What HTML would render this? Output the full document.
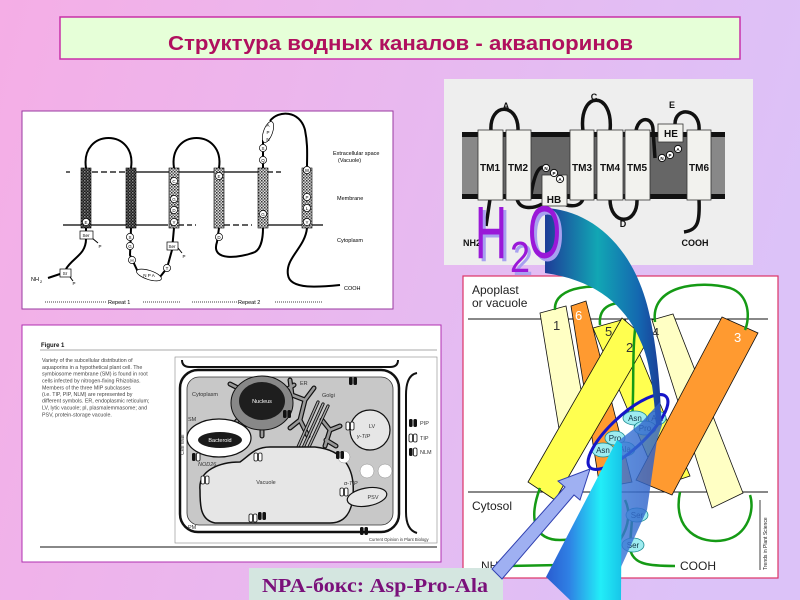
<!DOCTYPE html>
<html><head><meta charset="utf-8"><style>html,body{margin:0;padding:0;width:800px;height:600px;overflow:hidden}svg{display:block}</style></head>
<body>
<svg width="800" height="600" viewBox="0 0 800 600" xmlns="http://www.w3.org/2000/svg" xmlns:xlink="http://www.w3.org/1999/xlink" font-family="'Liberation Sans', 'DejaVu Sans', sans-serif">
<defs>
<linearGradient id="bg" x1="0" y1="0" x2="800" y2="220" gradientUnits="userSpaceOnUse">
<stop offset="0" stop-color="#f5aee6"/><stop offset="1" stop-color="#dcc2f8"/></linearGradient>
<pattern id="chkD" width="3" height="3" patternUnits="userSpaceOnUse"><rect width="3" height="3" fill="#1a1a1a"/><rect width="1.5" height="1.5" fill="#888"/><rect x="1.5" y="1.5" width="1.5" height="1.5" fill="#555"/></pattern>
<pattern id="chkL" width="3" height="3" patternUnits="userSpaceOnUse"><rect width="3" height="3" fill="#ddd"/><rect width="1.5" height="1.5" fill="#333"/><rect x="1.5" y="1.5" width="1.5" height="1.5" fill="#666"/></pattern>
<linearGradient id="arc" x1="545" y1="0" x2="662" y2="0" gradientUnits="userSpaceOnUse">
<stop offset="0" stop-color="#1d3c98"/><stop offset="0.45" stop-color="#12a6b4"/><stop offset="0.8" stop-color="#1468b0"/><stop offset="1" stop-color="#1c3a96"/></linearGradient>
<linearGradient id="cy" x1="546" y1="0" x2="622" y2="0" gradientUnits="userSpaceOnUse">
<stop offset="0" stop-color="#2a5cd0"/><stop offset="0.3" stop-color="#2f80e4"/><stop offset="0.72" stop-color="#22eef8"/><stop offset="1" stop-color="#18c4e8"/></linearGradient>
<linearGradient id="mb" x1="617" y1="0" x2="662" y2="0" gradientUnits="userSpaceOnUse">
<stop offset="0" stop-color="#3a78d8"/><stop offset="1" stop-color="#2c5cc4"/></linearGradient>
<g id="pip"><rect x="-4" y="-4" width="3.6" height="8" rx="1.5" fill="#111"/><rect x="0.4" y="-4" width="3.6" height="8" rx="1.5" fill="#111"/></g>
<g id="tip"><rect x="-4" y="-4" width="3.6" height="8" rx="1.5" fill="#fff" stroke="#111" stroke-width="0.8"/><rect x="0.4" y="-4" width="3.6" height="8" rx="1.5" fill="#fff" stroke="#111" stroke-width="0.8"/></g>
<g id="nlm"><rect x="-4" y="-4" width="3.6" height="8" rx="1.5" fill="#111"/><rect x="0.4" y="-4" width="3.6" height="8" rx="1.5" fill="#fff" stroke="#111" stroke-width="0.8"/></g>
</defs>

<rect width="800" height="600" fill="url(#bg)"/>

<!-- Title -->
<rect x="60" y="17" width="680" height="42" fill="#e6ffd8" stroke="#c830a8" stroke-width="1.5"/>
<text x="168" y="50" font-size="20" font-weight="bold" fill="#b0105e" textLength="465" lengthAdjust="spacingAndGlyphs">Структура водных каналов - аквапоринов</text>

<!-- ============ Top-left diagram ============ -->
<rect x="22" y="111" width="371" height="198" fill="#fff" stroke="#9a3aa0" stroke-width="1"/>
<g stroke="#000" stroke-width="1.2">
<line x1="66" y1="172" x2="70" y2="172"/>
<line x1="92" y1="172" x2="125" y2="172" stroke-dasharray="6 3"/>
<line x1="136" y1="172" x2="258" y2="172"/>
<line x1="268" y1="172" x2="284" y2="172" stroke-dasharray="5 3"/>
<line x1="63" y1="225" x2="168" y2="225"/>
<line x1="179" y1="225" x2="196" y2="225" stroke-dasharray="5 3"/>
<line x1="224" y1="225" x2="252" y2="225" stroke-dasharray="6 3"/>
<line x1="268" y1="225" x2="323" y2="225"/>
</g>
<g fill="none" stroke="#000" stroke-width="2">
<path d="M86,168 C80,128 137,128 131,168"/>
<path d="M174,168 C168,128 225,128 219,168"/>
<path d="M263,168 L263,140"/>
<path d="M270,121 C278,110 300,110 305,130 C308,145 307,155 307,168"/>
<path d="M86,228 L86,239 C86,255 72,258 66,269"/>
<path d="M48,278 L60,274"/>
<path d="M131,228 L130,255 L138,272 L160,277 L167,268 L172,250 L174,228"/>
<path d="M219,228 L217,242 C210,262 240,258 255,252 C262,248 263,235 263,228"/>
<path d="M307,228 C305,248 285,258 288,275 C290,290 320,287 340,285"/>
<path d="M92,238 L98,243" stroke-width="1"/>
<path d="M70,277 L73,281" stroke-width="1"/>
<path d="M178,248 L182,253" stroke-width="1"/>
</g>
<rect x="81" y="168" width="10" height="60" fill="url(#chkD)" stroke="#000" stroke-width="0.6"/>
<rect x="126" y="168" width="10" height="60" fill="url(#chkD)" stroke="#000" stroke-width="0.6"/>
<rect x="169" y="168" width="10" height="60" fill="url(#chkL)" stroke="#000" stroke-width="0.6"/>
<rect x="214" y="168" width="10" height="60" fill="url(#chkL)" stroke="#000" stroke-width="0.6"/>
<rect x="258" y="168" width="10" height="60" fill="url(#chkL)" stroke="#000" stroke-width="0.6"/>
<rect x="302" y="168" width="10" height="60" fill="url(#chkL)" stroke="#000" stroke-width="0.6"/>
<g fill="#fff" stroke="#000" stroke-width="0.7">
<circle cx="86" cy="222" r="3.6"/><circle cx="174" cy="181" r="3.6"/><circle cx="174" cy="199" r="3.6"/><circle cx="174" cy="210" r="3.6"/><circle cx="174" cy="222" r="3.6"/>
<circle cx="219" cy="176" r="3.6"/><circle cx="263" cy="214" r="3.6"/>
<circle cx="307" cy="170" r="3.6"/><circle cx="307" cy="197" r="3.6"/><circle cx="307" cy="208" r="3.6"/><circle cx="307" cy="222" r="3.6"/>
<circle cx="130" cy="237" r="3.6"/><circle cx="130" cy="246" r="3.6"/><circle cx="132" cy="260" r="3.6"/><circle cx="167" cy="268" r="3.6"/>
<circle cx="219" cy="237" r="3.6"/><circle cx="263" cy="160" r="3.6"/><circle cx="263" cy="148" r="3.6"/>
<rect x="80" y="231" width="13" height="8"/><rect x="60" y="269" width="11" height="8"/><rect x="167" y="242" width="11" height="8"/>
<ellipse cx="149" cy="275" rx="13" ry="4.5" transform="rotate(18 149 275)"/>
<ellipse cx="268" cy="132" rx="4.5" ry="11" transform="rotate(20 268 132)"/>
</g>
<g font-size="4.5" text-anchor="middle" fill="#000">
<text x="86" y="224">E</text><text x="174" y="183">C</text><text x="174" y="201">G</text><text x="174" y="212">D</text><text x="174" y="224">Y</text>
<text x="219" y="178">E</text><text x="263" y="216">G</text><text x="307" y="172">W</text><text x="307" y="199">P</text><text x="307" y="210">L</text><text x="307" y="224">Y</text>
<text x="130" y="239">S</text><text x="130" y="248">G</text><text x="132" y="262">H</text><text x="167" y="270">T</text><text x="219" y="239">D</text>
<text x="263" y="162">Q</text><text x="263" y="150">S</text><text x="86" y="237">Ser</text><text x="65" y="275">Sr</text><text x="172" y="248">Ser</text>
<text x="149" y="277">N P A</text><text x="268" y="127">A</text><text x="268" y="134">P</text><text x="268" y="141">N</text>
<text x="100" y="248">P</text><text x="74" y="285">P</text><text x="184" y="258">P</text>
</g>
<g font-size="5.5" fill="#000">
<text x="333" y="155">Extracellular space</text><text x="338" y="162">(Vacuole)</text>
<text x="337" y="200">Membrane</text><text x="337" y="242">Cytoplasm</text>
<text x="344" y="290">COOH</text><text x="31" y="281">NH</text><text x="40" y="283" font-size="4">2</text>
</g>
<g stroke="#000" stroke-width="0.8" stroke-dasharray="1 1"><line x1="45" y1="302" x2="107" y2="302"/><line x1="143" y1="302" x2="180" y2="302"/><line x1="192" y1="302" x2="237" y2="302"/><line x1="275" y1="302" x2="322" y2="302"/></g>
<text x="108" y="304" font-size="5.5">Repeat 1</text><text x="238" y="304" font-size="5.5">Repeat 2</text>

<!-- ============ Top-right diagram ============ -->
<rect x="444" y="79" width="309" height="186" fill="#eeeeee"/>
<rect x="462" y="132" width="263" height="67" fill="#666"/>
<rect x="462" y="132" width="16" height="67" fill="#888"/>
<rect x="711" y="132" width="14" height="67" fill="#888"/>
<rect x="462" y="132" width="263" height="5" fill="#111"/>
<rect x="462" y="194" width="263" height="5" fill="#111"/>
<g fill="none" stroke="#111" stroke-width="3.5">
<path d="M491,131 C489,102 519,102 518,131"/>
<path d="M583,131 C578,90 614,90 610,131"/>
<path d="M675,124 C675,106 701,108 699,131"/>
<path d="M636,131 C638,116 653,116 653,130 L655,158"/>
<path d="M610,199 C610,226 638,226 637,199"/>
<path d="M517,199 C520,211 535,208 542,204"/>
<path d="M566,205 C575,207 581,205 583,199"/>
<path d="M531,195 C535,170 540,165 546,168"/>
<path d="M490,199 L486,226"/>
<path d="M699,199 C700,222 698,230 684,232"/>
</g>
<g fill="#f2f2ee" stroke="#333" stroke-width="0.8">
<rect x="478" y="130" width="25" height="70"/><rect x="506" y="130" width="25" height="70"/>
<rect x="570" y="130" width="24" height="70"/><rect x="597" y="130" width="26" height="70"/>
<rect x="625" y="130" width="25" height="70"/><rect x="687" y="130" width="24" height="70"/>
<rect x="542" y="175" width="25" height="31"/><rect x="658" y="124" width="25" height="18"/>
</g>
<g fill="#fff" stroke="#111" stroke-width="1">
<circle cx="546" cy="168" r="3.6"/><circle cx="554" cy="173" r="3.6"/><circle cx="560" cy="179" r="3.6"/>
<circle cx="662" cy="158" r="3.6"/><circle cx="670" cy="155" r="3.6"/><circle cx="678" cy="149" r="3.6"/>
</g>
<g font-size="4.5" text-anchor="middle" fill="#000" font-weight="bold">
<text x="546" y="170">N</text><text x="554" y="175">P</text><text x="560" y="181">A</text>
<text x="662" y="160">N</text><text x="670" y="157">P</text><text x="678" y="151">A</text>
</g>
<g font-size="10" font-weight="bold" text-anchor="middle" fill="#111">
<text x="490" y="171">TM1</text><text x="518" y="171">TM2</text><text x="582" y="171">TM3</text><text x="610" y="171">TM4</text><text x="637" y="171">TM5</text><text x="699" y="171">TM6</text>
<text x="554" y="203">HB</text><text x="671" y="137">HE</text>
<text x="506" y="109" font-size="9">A</text><text x="594" y="100" font-size="9">C</text><text x="672" y="108" font-size="9">E</text><text x="623" y="227" font-size="9">D</text>
<text x="695" y="246" font-size="9">COOH</text><text x="472" y="246" font-size="9">NH2</text>
</g>

<!-- ============ Bottom-left figure ============ -->
<rect x="22" y="325" width="419" height="237" fill="#fff" stroke="#b030b0" stroke-width="1"/>
<text x="41" y="347" font-size="6" font-weight="bold" fill="#111">Figure 1</text>
<line x1="40" y1="350" x2="437" y2="350" stroke="#555" stroke-width="0.6"/>
<g font-size="5.3" fill="#444">
<text x="42" y="362">Variety of the subcellular distribution of</text>
<text x="42" y="369">aquaporins in a hypothetical plant cell. The</text>
<text x="42" y="375.5">symbiosome membrane (SM) is found in root</text>
<text x="42" y="382.5">cells infected by nitrogen-fixing Rhizobias.</text>
<text x="42" y="389.5">Members of the three MIP subclasses</text>
<text x="42" y="396">(i.e. TIP, PIP, NLM) are represented by</text>
<text x="42" y="402.5">different symbols. ER, endoplasmic reticulum;</text>
<text x="42" y="409.5">LV, lytic vacuole; pl, plasmalemmasome; and</text>
<text x="42" y="416.5">PSV, protein-storage vacuole.</text>
</g>
<rect x="175" y="357" width="262" height="186" fill="#fff" stroke="#888" stroke-width="0.6"/>
<path d="M182,360 Q182,367 190,367 L390,367 Q398,367 398,360" fill="none" stroke="#111" stroke-width="2"/>
<path d="M417,373 Q406,375 406,395 L406,512 Q406,530 417,533" fill="none" stroke="#111" stroke-width="2"/>
<rect x="180" y="370" width="219" height="162" rx="18" fill="#fff" stroke="#111" stroke-width="2.5"/>
<rect x="187" y="377" width="206" height="148" rx="12" fill="#c8c8c8" stroke="#333" stroke-width="0.8"/>
<g fill="none" stroke-linecap="round" stroke-linejoin="round">
<path d="M290,380 L292,395 L284,404 M292,395 L305,400 L300,420 L290,428 M300,420 L308,436 M305,400 L314,388 M322,420 L330,430 L325,446 M330,430 L340,426 M326,440 L336,446 M238,388 L230,384 M240,418 L232,426 M286,390 L294,385 M262,428 L262,436 M244,428 L240,436" stroke="#111" stroke-width="5"/>
<path d="M290,380 L292,395 L284,404 M292,395 L305,400 L300,420 L290,428 M300,420 L308,436 M305,400 L314,388 M322,420 L330,430 L325,446 M330,430 L340,426 M326,440 L336,446 M238,388 L230,384 M240,418 L232,426 M286,390 L294,385 M262,428 L262,436 M244,428 L240,436" stroke="#999" stroke-width="2.6"/>
<path d="M298,447 L318,402 M303,448 L323,404 M308,449 L328,406" stroke="#111" stroke-width="3.2"/>
<path d="M298,447 L318,402 M303,448 L323,404 M308,449 L328,406" stroke="#aaa" stroke-width="1.4"/>
</g>
<ellipse cx="262" cy="403" rx="31" ry="27" fill="#888" stroke="#111" stroke-width="1"/>
<ellipse cx="262" cy="401" rx="23" ry="19" fill="#1e1e1e"/>
<text x="262" y="403" font-size="5.5" fill="#fff" text-anchor="middle">Nucleus</text>
<ellipse cx="219" cy="438" rx="32" ry="19" fill="#fff" stroke="#111" stroke-width="1.2"/>
<ellipse cx="220" cy="440" rx="22" ry="8" fill="#1a1a1a"/>
<text x="220" y="442" font-size="5.5" fill="#fff" text-anchor="middle">Bacteroid</text>
<path d="M200,490 C198,470 220,462 240,462 C250,455 255,447 270,447 L315,447 C345,450 355,470 353,495 C352,512 345,523 330,523 L215,523 C200,520 200,505 200,490 Z" fill="#e6e6e6" stroke="#111" stroke-width="1.5"/>
<text x="266" y="484" font-size="5.5" fill="#333" text-anchor="middle">Vacuole</text>
<circle cx="370" cy="430" r="20" fill="#e6e6e6" stroke="#111" stroke-width="1.2"/>
<text x="372" y="428" font-size="5.5" fill="#333" text-anchor="middle">LV</text>
<ellipse cx="367" cy="497" rx="20" ry="9" transform="rotate(-10 367 497)" fill="#e6e6e6" stroke="#111" stroke-width="1.2"/>
<text x="373" y="499" font-size="5.5" fill="#333" text-anchor="middle">PSV</text>
<circle cx="367" cy="471" r="7" fill="#fff" stroke="#888" stroke-width="0.5"/>
<circle cx="385" cy="471" r="7" fill="#fff" stroke="#888" stroke-width="0.5"/>
<circle cx="344" cy="457" r="6" fill="#fff" stroke="#888" stroke-width="0.5"/>
<use xlink:href="#pip" x="353" y="381"/><use xlink:href="#pip" x="364" y="531"/><use xlink:href="#pip" x="287" y="414"/><use xlink:href="#pip" x="340" y="455"/><use xlink:href="#pip" x="262" y="516"/>
<use xlink:href="#tip" x="258" y="457"/><use xlink:href="#tip" x="205" y="480"/><use xlink:href="#tip" x="344" y="492"/><use xlink:href="#tip" x="350" y="426"/><use xlink:href="#tip" x="253" y="518"/>
<use xlink:href="#nlm" x="196" y="457"/><use xlink:href="#pip" x="413" y="423"/><use xlink:href="#tip" x="413" y="438"/><use xlink:href="#nlm" x="413" y="452"/>
<g font-size="5.5" fill="#333">
<text x="192" y="396">Cytoplasm</text><text x="300" y="385">ER</text><text x="322" y="397">Golgi</text><text x="188" y="421">SM</text>
<text x="198" y="466" font-style="italic">NOD26</text><text x="188" y="529">PM</text><text x="344" y="485" font-style="italic">α-TIP</text><text x="357" y="438" font-style="italic">γ-TIP</text>
<text x="420" y="425">PIP</text><text x="420" y="440">TIP</text><text x="420" y="454">NLM</text>
<text x="184" y="455" transform="rotate(-90 184 455)">Cell wall</text>
<text x="369" y="541" font-size="4.2">Current Opinion in Plant Biology</text>
</g>
<line x1="40" y1="547" x2="437" y2="547" stroke="#111" stroke-width="1"/>

<!-- ============ Bottom-right diagram ============ -->
<rect x="463" y="276" width="315" height="302" fill="#fff" stroke="#dd3366" stroke-width="1.2"/>
<line x1="468" y1="319" x2="768" y2="319" stroke="#111" stroke-width="1"/>
<line x1="468" y1="492" x2="768" y2="492" stroke="#111" stroke-width="1"/>
<text x="472" y="294" font-size="12" fill="#222">Apoplast</text>
<text x="472" y="307" font-size="12" fill="#222">or vacuole</text>
<text x="472" y="510" font-size="12" fill="#222">Cytosol</text>
<line x1="760" y1="500" x2="760" y2="570" stroke="#111" stroke-width="0.8"/>
<text x="767" y="570" font-size="5" fill="#222" transform="rotate(-90 767 570)">Trends in Plant Science</text>
<g stroke="#111" stroke-width="0.8">
<polygon points="652,320 673,314 743,493 712,508" fill="#ffffc4"/>
<polygon points="540,313 566,306 590,440 562,447" fill="#ffffc4"/>
<polygon points="571,306 586,301 632,482 600,488" fill="#ff9a30"/>
<polygon points="593,328 625,319 690,476 660,486" fill="#ffff50"/>
<polygon points="722,317 758,333 672,495 636,480" fill="#ff9a30"/>
<polygon points="528,482 622,318 648,340 555,500" fill="#ffff50"/>
</g>
<g font-size="13" fill="#333">
<text x="553" y="330">1</text><text x="575" y="320" fill="#fff">6</text><text x="605" y="336">5</text><text x="652" y="337">4</text><text x="626" y="352">2</text><text x="734" y="342" fill="#fff">3</text>
</g>
<g fill="none" stroke="#159a15" stroke-width="2.5">
<path d="M555,310 C553,285 600,282 625,292 C640,298 648,310 648,320"/>
<path d="M600,325 C598,305 615,300 632,305"/>
<path d="M655,322 C650,285 700,280 730,288 C750,295 750,318 745,330"/>
<path d="M640,300 C630,340 635,380 632,420"/>
<path d="M540,488 C528,520 535,540 560,540 C585,540 600,525 600,510"/>
<path d="M680,492 C672,530 700,545 725,540 C748,535 755,510 750,495"/>
<path d="M505,566 L560,565 C590,563 610,555 620,540 C630,525 630,510 625,500"/>
<path d="M630,548 C632,565 650,566 675,566"/>
<path d="M632,520 L630,545"/>
</g>
<text x="680" y="570" font-size="12" fill="#222">COOH</text>
<text x="481" y="570" font-size="12" fill="#222">NH2</text>
<g fill="#9eecf0" stroke="#1a8a90" stroke-width="0.8">
<ellipse cx="635" cy="418" rx="12" ry="7"/><ellipse cx="657" cy="418" rx="9" ry="7"/><ellipse cx="645" cy="428" rx="11" ry="7"/>
<ellipse cx="615" cy="438" rx="10" ry="7"/><ellipse cx="603" cy="450" rx="11" ry="7"/><ellipse cx="625" cy="449" rx="10" ry="7"/>
<ellipse cx="637" cy="515" rx="11" ry="7"/><ellipse cx="633" cy="545" rx="11" ry="7"/>
</g>
<g font-size="8" fill="#134" text-anchor="middle">
<text x="635" y="421">Asn</text><text x="657" y="421">Ala</text><text x="645" y="431">Pro</text>
<text x="615" y="441">Pro</text><text x="603" y="453">Asn</text><text x="625" y="452">Ala</text>
<text x="637" y="518">Ser</text><text x="633" y="548">Ser</text>
</g>
<ellipse cx="628" cy="432" rx="52" ry="17" transform="rotate(-42.7 628 432)" fill="none" stroke="#1515c8" stroke-width="3"/>

<!-- bottom label -->
<rect x="249" y="568" width="254" height="32" fill="#d4e6e0"/>
<text x="262" y="592" font-family="'Liberation Serif', serif" font-size="20" font-weight="bold" fill="#7a107a" textLength="226" lengthAdjust="spacingAndGlyphs">NPA-бокс: Asp-Pro-Ala</text>

<!-- arrows -->
<path d="M545,208 C590,210 635,245 650,317 C657,350 661,390 661,425 L656,425 C654,395 650,360 640,340 C625,305 595,280 545,273 Z" fill="url(#arc)"/>
<polygon points="617,442 640,424 660,402 662,425 657,440 647,510 621,567 621,500" fill="url(#mb)" opacity="0.82"/>
<polygon points="617,440 622,444 621,600 570,600 546,577" fill="url(#cy)"/>
<polygon points="492,569 565,487 558,481 590,469 580,500 574,495 502,579" fill="#9fb0f2" stroke="#3040b0" stroke-width="1"/>

<!-- H2O -->
<g font-weight="normal">
<text x="478" y="261" font-size="74" fill="#a8a0f0" textLength="32" lengthAdjust="spacingAndGlyphs">H</text>
<text x="513" y="275" font-size="44" fill="#a8a0f0" textLength="20" lengthAdjust="spacingAndGlyphs">2</text>
<text x="531" y="261" font-size="74" fill="#a8a0f0" textLength="33" lengthAdjust="spacingAndGlyphs">O</text>
<text x="475" y="258" font-size="74" fill="#9a18d8" textLength="32" lengthAdjust="spacingAndGlyphs">H</text>
<text x="510" y="272" font-size="44" fill="#9a18d8" textLength="20" lengthAdjust="spacingAndGlyphs">2</text>
<text x="528" y="258" font-size="74" fill="#9a18d8" textLength="33" lengthAdjust="spacingAndGlyphs">O</text>
</g>
</svg>
</body></html>
